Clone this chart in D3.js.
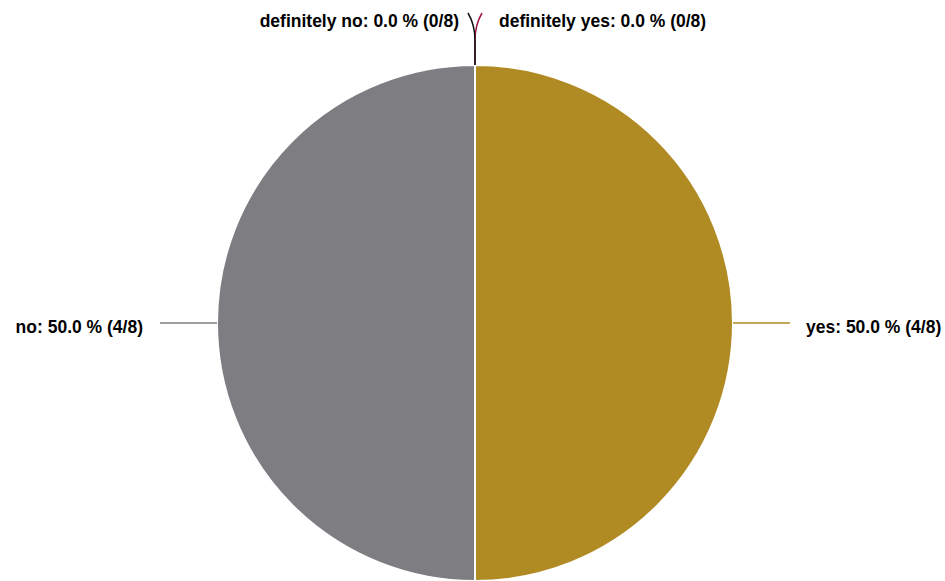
<!DOCTYPE html>
<html><head><meta charset="utf-8">
<script src="https://cdn.jsdelivr.net/npm/d3@7"></script>
<style>body{margin:0;background:#fff}svg{display:block}text{font-family:"Liberation Sans",Arial,sans-serif;font-weight:bold;font-size:17.5px;fill:#000}</style>
</head><body><svg id="c" width="945" height="581"></svg>
<script>
const categories = ["definitely yes", "yes", "no", "definitely no"];
const counts = [0, 4, 4, 0];
const total = 8;
const colors = ["#a0173f", "#b08a22", "#7e7d82", "#111111"];

const svg = d3.select("#c");
const cx = 475, cy = 323, r = 258;
const g = svg.append("g").attr("transform", `translate(${cx},${cy})`);
const pie = d3.pie().sort(null).value(d => d.v);
const data = categories.map((c, i) => ({c, v: counts[i], col: colors[i]}));
const arcs = pie(data);
const arc = d3.arc().innerRadius(0).outerRadius(r);
g.selectAll("path.s").data(arcs).join("path").attr("class", "s")
  .attr("d", arc).attr("fill", d => d.data.col)
  .attr("stroke", "#fff").attr("stroke-width", d => d.data.v > 0 ? 2 : 0);

arcs.forEach(a => {
  const mid = (a.startAngle + a.endAngle) / 2;
  const pct = (a.data.v / total * 100).toFixed(1);
  const label = `${a.data.c}: ${pct} % (${a.data.v}/${total})`;
  const sx = Math.sin(mid) * r, sy = -Math.cos(mid) * r;
  if (a.data.v > 0) {
    const right = Math.sin(mid) > 0;
    const ex = sx + (right ? 57 : -57);
    g.append("line").attr("x1", sx).attr("y1", sy).attr("x2", ex).attr("y2", sy)
      .attr("stroke", a.data.col).attr("stroke-width", 1.5);
    g.append("text").attr("x", ex + (right ? 16 : -17)).attr("y", sy + 10)
      .attr("text-anchor", right ? "start" : "end").text(label);
  } else {
    const right = a.index === 0;
    const dx = right ? 7 : -7;
    g.append("path")
      .attr("d", `M${sx},${sy} L${sx},${sy - 25} Q${sx},${sy - 40} ${sx + dx},${sy - 52}`)
      .attr("fill", "none").attr("stroke", a.data.col).attr("stroke-width", 1.5);
    g.append("text").attr("x", right ? 24 : -16).attr("y", sy - 38)
      .attr("text-anchor", right ? "start" : "end").text(label);
  }
});
</script></body></html>
